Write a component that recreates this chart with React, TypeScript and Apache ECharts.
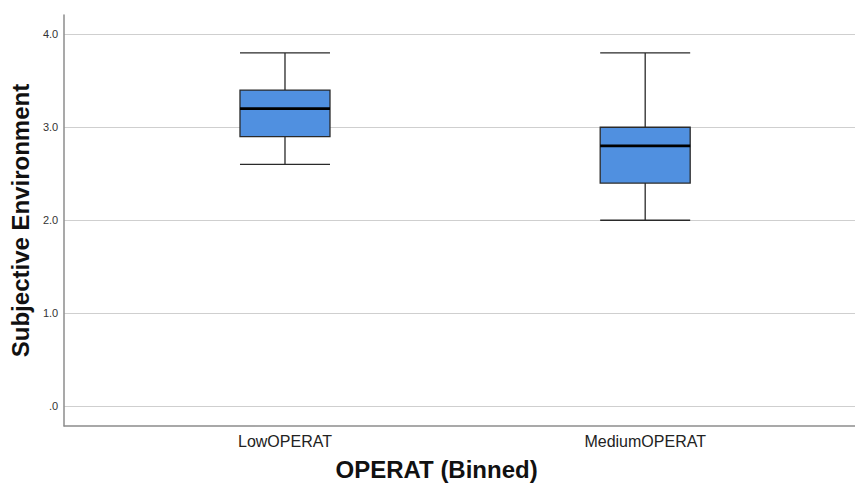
import React, { useEffect, useRef } from "react";
import * as echarts from "echarts";

const categories: string[] = ["LowOPERAT", "MediumOPERAT"];
// [min, Q1, median, Q3, max]
const lowStats: number[] = [2.6, 2.9, 3.2, 3.4, 3.8];
const mediumStats: number[] = [2.0, 2.4, 2.8, 3.0, 3.8];
const yTickValues: number[] = [0, 1, 2, 3, 4];
const xTitle = "OPERAT (Binned)";
const yTitle = "Subjective Environment";

const FONT = "'Liberation Sans', Arial, sans-serif";

export default function App() {
  const ref = useRef<HTMLDivElement>(null);

  useEffect(() => {
    if (!ref.current) return;
    const chart = echarts.init(ref.current, null, { renderer: "svg" });
    const statsList = [lowStats, mediumStats];
    const boxData = statsList.map((s, i) => [i, ...s]);
    const medianData = statsList.map((s, i) => [i, s[2]]);
    const BOX_PX = 90;

    chart.setOption({
      animation: false,
      backgroundColor: "#ffffff",
      grid: { left: 63.5, right: 0, top: 15, bottom: 58.5, containLabel: false },
      xAxis: {
        type: "value",
        min: -0.613,
        max: 1.5825,
        name: xTitle,
        nameLocation: "middle",
        nameGap: 31,
        nameTextStyle: {
          fontFamily: FONT,
          fontSize: 24,
          fontWeight: "bold",
          color: "#111",
          padding: [0, 46, 0, 0],
        },
        axisLine: { show: true, onZero: false, lineStyle: { color: "#8c8c8c", width: 1.5 } },
        axisTick: { show: false },
        splitLine: { show: false },
        axisLabel: {
          customValues: [0, 1],
          formatter: (v: number) => categories[Math.round(v)] ?? "",
          fontFamily: FONT,
          fontSize: 16,
          color: "#222",
          margin: 7,
        },
      },
      yAxis: {
        type: "value",
        min: -0.212,
        max: 4.207,
        name: yTitle,
        nameLocation: "middle",
        nameGap: 28,
        nameTextStyle: {
          fontFamily: FONT,
          fontSize: 24,
          fontWeight: "bold",
          color: "#111",
        },
        axisLine: { show: true, onZero: false, lineStyle: { color: "#8c8c8c", width: 1.5 } },
        axisTick: { show: false, customValues: yTickValues },
        axisLabel: {
          customValues: yTickValues,
          formatter: (v: number) => (v === 0 ? ".0" : v.toFixed(1)),
          fontFamily: FONT,
          fontSize: 11,
          color: "#333",
          margin: 6,
        },
        splitLine: { show: true, lineStyle: { color: "#cfcfcf", width: 1.2 } },
      },
      series: [
        {
          type: "boxplot",
          data: boxData,
          boxWidth: [BOX_PX, BOX_PX],
          itemStyle: {
            color: "#5090e0",
            borderColor: "#2a2a2a",
            borderWidth: 1.3,
          },
          emphasis: { disabled: true },
          z: 3,
        },
        {
          type: "custom",
          data: medianData,
          z: 4,
          silent: true,
          renderItem: (params: any, api: any) => {
            const p = api.coord([api.value(0), api.value(1)]);
            return {
              type: "line",
              shape: { x1: p[0] - BOX_PX / 2, y1: p[1], x2: p[0] + BOX_PX / 2, y2: p[1] },
              style: { stroke: "#000", lineWidth: 2.6 },
            };
          },
        },
      ],
    });

    return () => chart.dispose();
  }, []);

  return (
    <div
      ref={ref}
      style={{ position: "fixed", left: 0, top: 0, width: 855, height: 486 }}
    />
  );
}
